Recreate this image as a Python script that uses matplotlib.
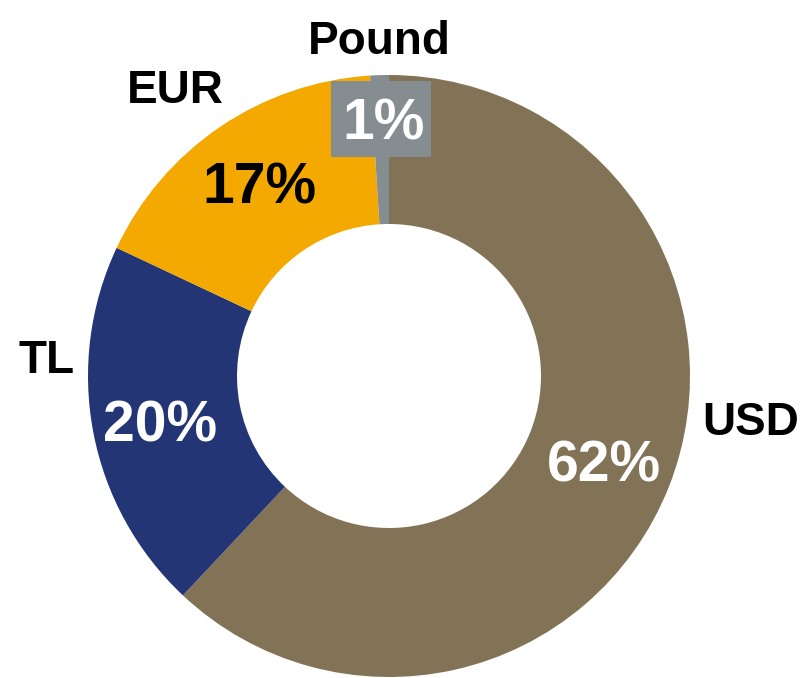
import matplotlib.pyplot as plt
from matplotlib.patches import Rectangle

# ===== data =====
currencies = ["USD", "TL", "EUR", "Pound"]
shares = [62, 20, 17, 1]
colors = ["#837356", "#233574", "#F3A900", "#868D91"]
pct_colors = ["white", "white", "black", "white"]

plt.rcParams["font.family"] = ["Liberation Sans", "DejaVu Sans"]

W, H = 808, 678
fig = plt.figure(figsize=(W / 100, H / 100), dpi=100)
ax = fig.add_axes([0, 0, 1, 1])

# donut
cx, cy, r_out, r_in = 389, H - 376, 301, 152
ax.pie(shares, colors=colors, startangle=90, counterclock=False,
       center=(cx, cy), radius=r_out, frame=True,
       wedgeprops=dict(width=r_out - r_in, linewidth=0))
ax.set_xlim(0, W)
ax.set_ylim(0, H)
ax.set_aspect("equal")
ax.axis("off")

# label layout (pixel positions, top-left origin, baseline)
name_pos = {"USD": (751, 435), "TL": (47, 373), "EUR": (175, 103), "Pound": (379, 54)}
pct_pos = {"USD": (604, 482), "TL": (160, 442), "EUR": (259, 203), "Pound": (384, 140)}

# grey box behind the small Pound label
ax.add_patch(Rectangle((331, H - 157), 100, 76, facecolor="#868D91",
                       edgecolor="none", zorder=2))

for cur, val, pc in zip(currencies, shares, pct_colors):
    x, y = name_pos[cur]
    ax.text(x, H - y, cur, ha="center", va="baseline", fontsize=33,
            fontweight="bold", color="black", zorder=3)
    x, y = pct_pos[cur]
    ax.text(x, H - y, f"{val}%", ha="center", va="baseline", fontsize=41,
            fontweight="bold", color=pc, zorder=3)

plt.savefig("out.png", dpi=100)
